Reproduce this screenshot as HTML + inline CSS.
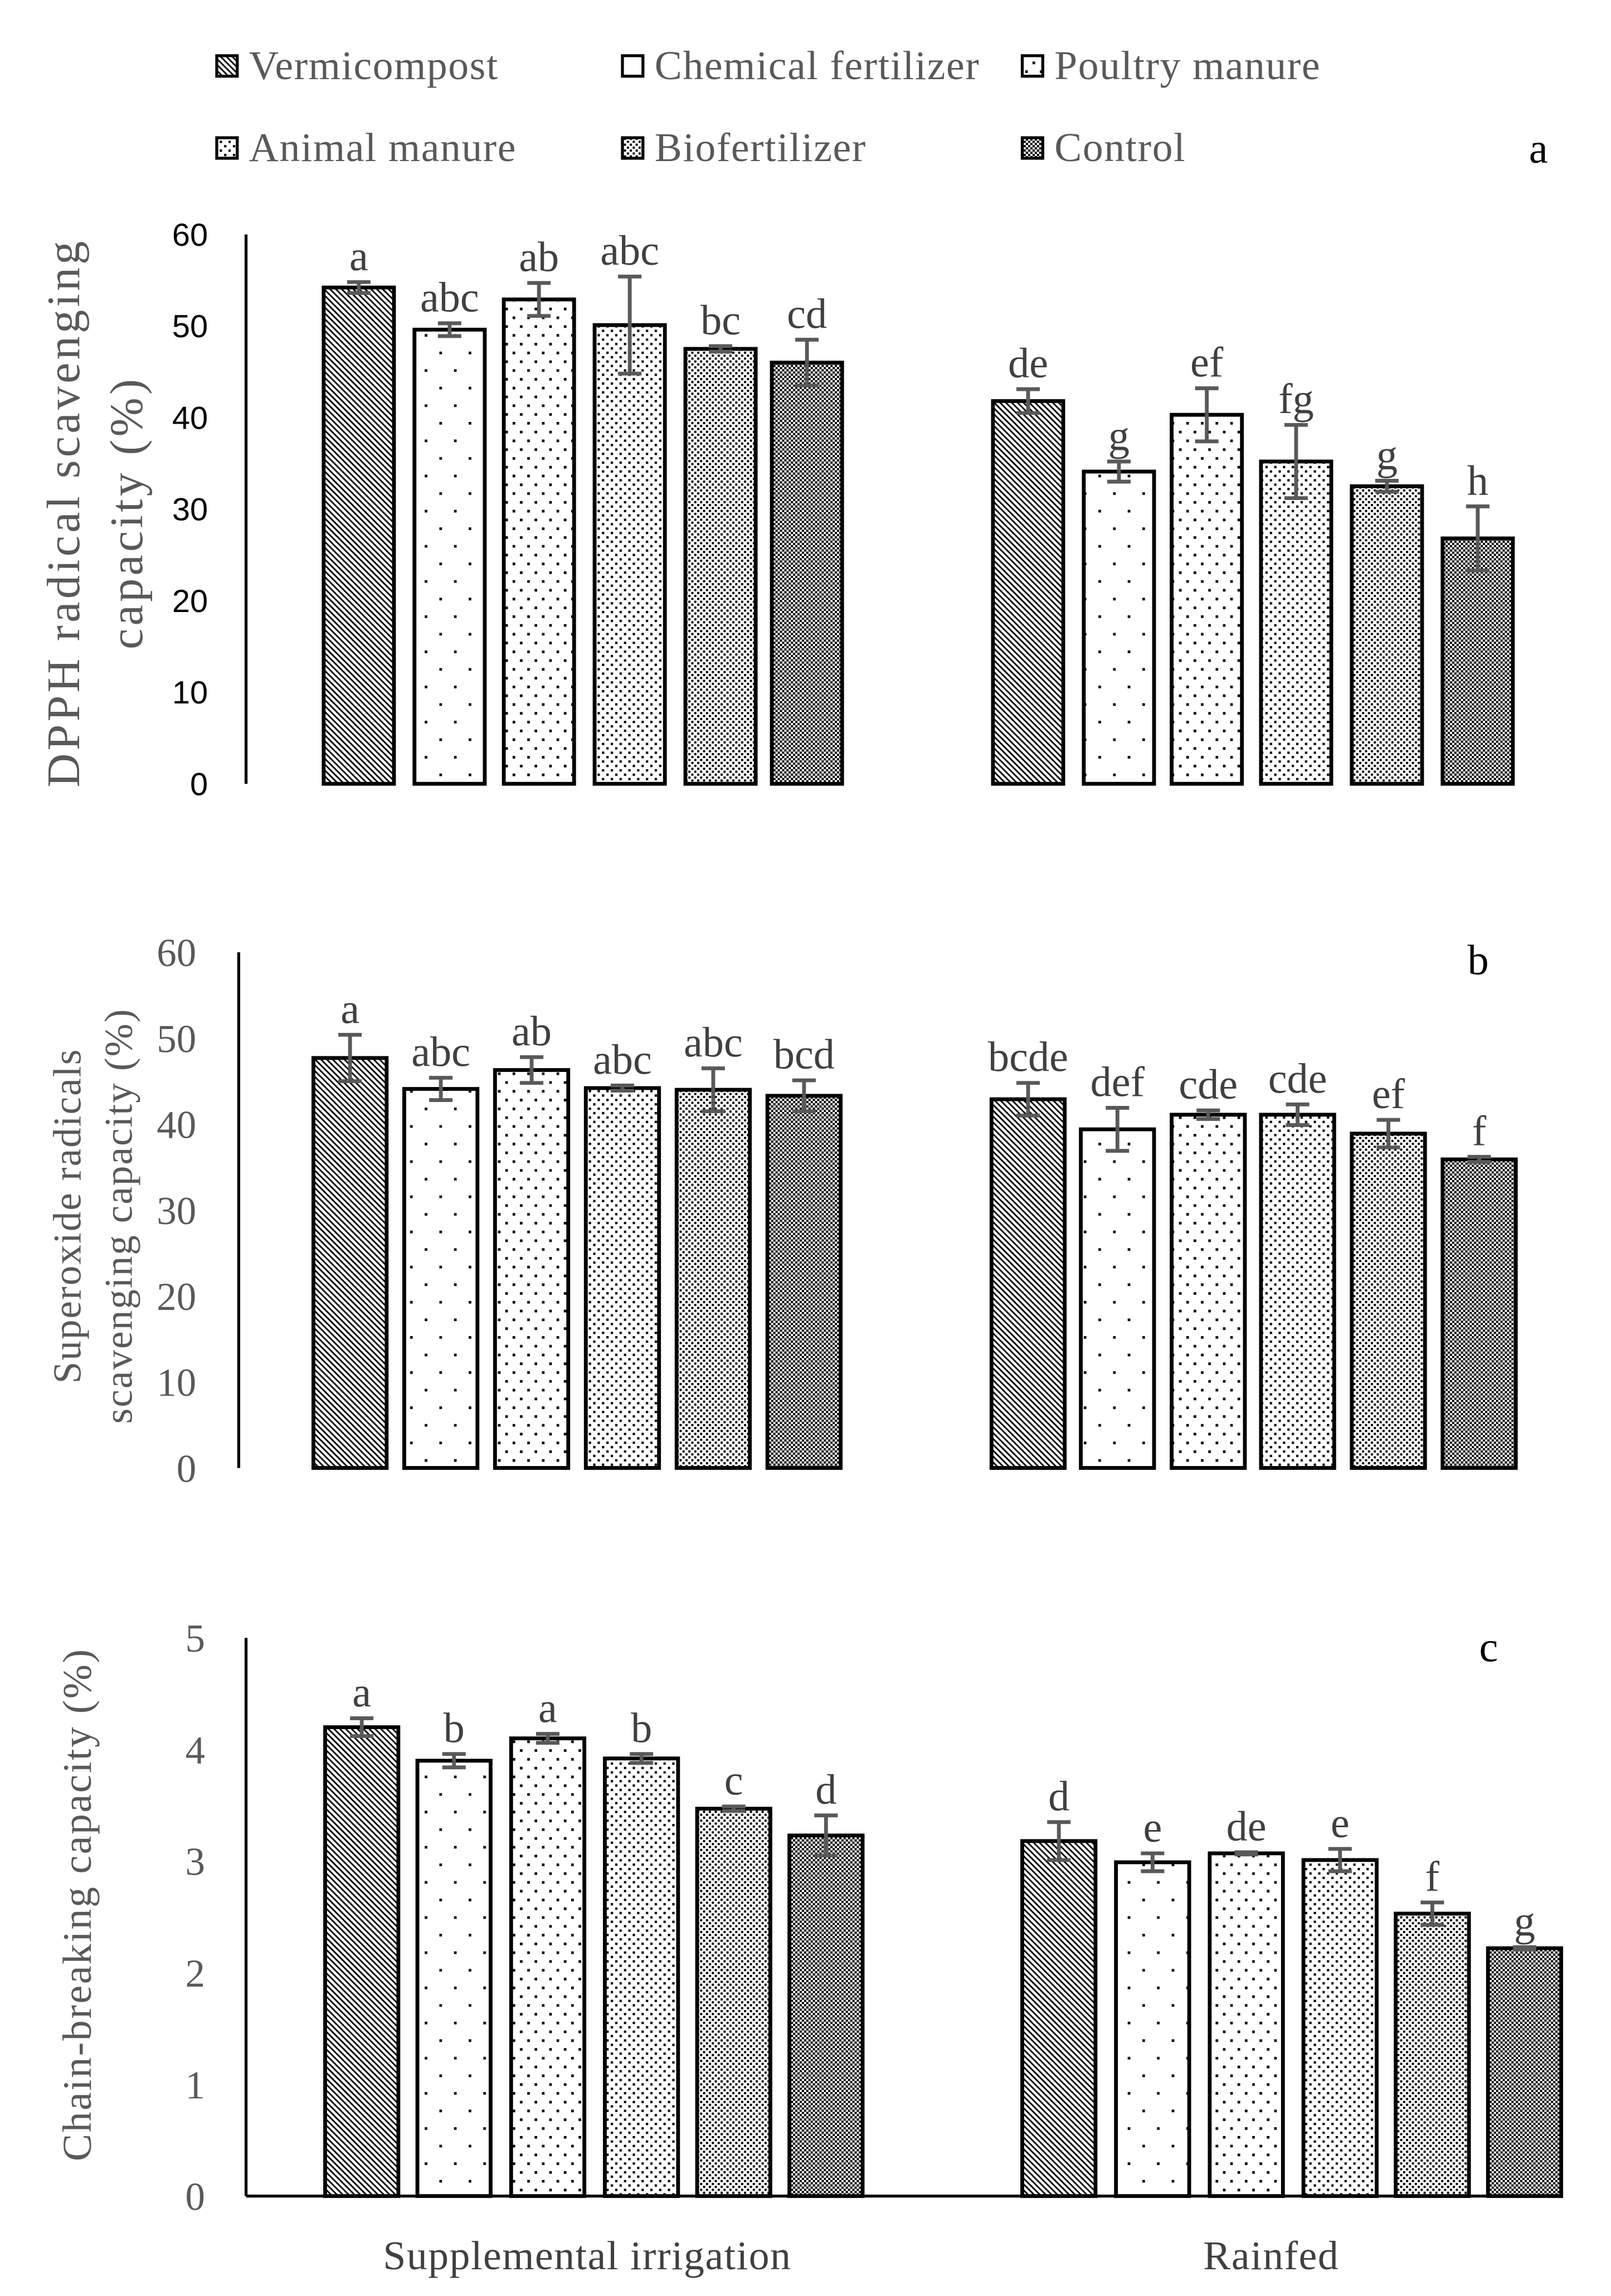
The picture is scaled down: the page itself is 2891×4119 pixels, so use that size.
<!DOCTYPE html>
<html><head><meta charset="utf-8"><style>
html,body{margin:0;padding:0;background:#fff}
svg{display:block}
.ser{font-family:"Liberation Serif",serif}
.san{font-family:"Liberation Sans",sans-serif}
</style></head><body>
<svg id="fig" width="2891" height="4119" viewBox="0 0 1100 1567.2" xmlns="http://www.w3.org/2000/svg">
<defs>
<pattern id="p0" width="4" height="4" patternUnits="userSpaceOnUse"><rect width="4" height="4" fill="#fff"/><path d="M-1,-1 L5,5 M-1,3 L1,5 M3,-1 L5,1" stroke="#000" stroke-width="1.1"/></pattern>
<pattern id="p1" width="20" height="24" patternUnits="userSpaceOnUse"><rect width="20" height="24" fill="#fff"/><rect x="0" y="0" width="1.8" height="1.8" fill="#000"/><rect x="10" y="12" width="1.8" height="1.8" fill="#000"/></pattern>
<pattern id="p2" width="10" height="12" patternUnits="userSpaceOnUse"><rect width="10" height="12" fill="#fff"/><rect x="0" y="0" width="1.8" height="1.8" fill="#000"/><rect x="5" y="6" width="1.8" height="1.8" fill="#000"/></pattern>
<pattern id="p3" width="6" height="6" patternUnits="userSpaceOnUse"><rect width="6" height="6" fill="#fff"/><rect x="0" y="0" width="1.6" height="1.6" fill="#000"/><rect x="3" y="3" width="1.6" height="1.6" fill="#000"/></pattern>
<pattern id="p4" width="4" height="4" patternUnits="userSpaceOnUse"><rect width="4" height="4" fill="#fff"/><rect x="0" y="0" width="1.5" height="1.5" fill="#000"/><rect x="2" y="2" width="1.5" height="1.5" fill="#000"/></pattern>
<pattern id="p5" width="3" height="3" patternUnits="userSpaceOnUse"><rect width="3" height="3" fill="#fff"/><rect x="0" y="0" width="1.5" height="1.5" fill="#000"/><rect x="1.5" y="1.5" width="1.5" height="1.5" fill="#000"/></pattern>
</defs>
</svg>
<script>
const treatments=["Vermicompost","Chemical fertilizer","Poultry manure","Animal manure","Biofertilizer","Control"];
const groups=["Supplemental irrigation","Rainfed"];
// panel a
const aSI=[54.2,49.6,52.9,50.1,47.5,46.0];
const aR=[41.8,34.1,40.3,35.2,32.5,26.8];
const aErrSI=[0.6,0.7,1.8,5.3,0.3,2.5];
const aErrR=[1.3,1.1,2.9,4.0,0.6,3.5];
const aLetSI=["a","abc","ab","abc","bc","cd"];
const aLetR=["de","g","ef","fg","g","h"];
const aTicks=[0,10,20,30,40,50,60];
// panel b
const bSI=[47.7,44.1,46.3,44.2,44.0,43.3];
const bR=[42.9,39.4,41.1,41.1,38.9,35.9];
const bErrSI=[2.7,1.3,1.5,0.3,2.5,1.8];
const bErrR=[1.9,2.5,0.5,1.2,1.6,0.3];
const bLetSI=["a","abc","ab","abc","abc","bcd"];
const bLetR=["bcde","def","cde","cde","ef","f"];
const bTicks=[0,10,20,30,40,50,60];
// panel c
const cSI=[4.2,3.9,4.1,3.92,3.47,3.23];
const cR=[3.18,2.99,3.07,3.01,2.53,2.22];
const cErrSI=[0.08,0.06,0.04,0.04,0.02,0.18];
const cErrR=[0.17,0.08,0.01,0.1,0.1,0.01];
const cLetSI=["a","b","a","b","c","d"];
const cLetR=["d","e","de","e","f","g"];
const cTicks=[0,1,2,3,4,5];

const svg=document.getElementById('fig');
const NS="http://www.w3.org/2000/svg";
function mk(tag,attrs,parent,text){const e=document.createElementNS(NS,tag);for(const k in attrs)e.setAttribute(k,attrs[k]);if(text!==undefined)e.textContent=text;(parent||svg).appendChild(e);return e;}

// legend
const legX=[148,425,698];const legY=[45,101];
treatments.forEach((t,i)=>{
  const x=legX[i%3],y=legY[Math.floor(i/3)];
  const g=mk('g',{});
  
  
  mk('rect',{x:x,y:y-7,width:14,height:14,fill:'url(#p'+i+')',stroke:'#000','stroke-width':2},g);
  mk('text',{x:x+22,y:y+9,'font-size':28,'letter-spacing':0.6,fill:'#595959',class:'ser'},g,t);
});

function panel(o){
  const g=mk('g',{});
  
  
  const yS=v=>o.y0-(v/o.max)*(o.y0-o.yTop);
  const ax=mk('line',{x1:o.axX,y1:o.yTop,x2:o.axX,y2:o.y0,stroke:'#000','stroke-width':2},g);
  
  
  if(o.xAxis){const xl=mk('line',{x1:o.axX,y1:o.y0,x2:1055,y2:o.y0,stroke:'#000','stroke-width':2},g);
    
    }
  o.ticks.forEach(t=>{
    const tx=mk('text',{x:o.tickX,y:yS(t)+o.tickFs*0.35,'font-size':o.tickFs,'text-anchor':'end',fill:o.tickCol,class:o.tickCls},g,String(t));
    
    
  });
  const sets=[[o.si,o.eSI,o.lSI,o.xSI],[o.r,o.eR,o.lR,o.xR]];
  sets.forEach((s,gi)=>{
    s[0].forEach((v,i)=>{
      const x=s[3][i],w=o.bw,top=yS(v);
      const b=mk('rect',{x:x,y:top,width:w,height:o.y0-top,fill:'url(#p'+i+')',stroke:'#000','stroke-width':2.6},g);
      
      
      const cx=x+w/2,e1=yS(v+s[1][i]),e2=yS(v-s[1][i]);
      const eb=mk('path',{d:`M${cx},${e1}V${e2}M${cx-8},${e1}H${cx+8}M${cx-8},${e2}H${cx+8}`,stroke:'#595959','stroke-width':2.6,fill:'none'},g);
      
      
      const lt=mk('text',{x:cx,y:Math.min(top,e1)-8,'font-size':29,'text-anchor':'middle',fill:'#404040',class:'ser'},g,s[2][i]);
      
      
    });
  });
  const pl=mk('text',{x:o.lab[0],y:o.lab[1],'font-size':29,fill:'#000',class:'ser'},g,o.id);
  
  
  o.title.forEach((line,k)=>{
    const tt=mk('text',{x:0,y:0,'font-size':o.titleFs,'letter-spacing':o.titleLs,'text-anchor':'middle',fill:'#595959',class:'ser',transform:`translate(${o.titleX[k]},${o.titleY}) rotate(-90)`},g,line);
    
    
  });
}
panel({id:'a',axX:168,yTop:160,y0:535,max:60,ticks:aTicks,tickX:142,tickFs:22,tickCol:'#000',tickCls:'san',
  si:aSI,r:aR,eSI:aErrSI,eR:aErrR,lSI:aLetSI,lR:aLetR,bw:48,
  xSI:[221,283,344,406,468,527],xR:[678,740,800,861,923,985],lab:[1044,111],
  title:["DPPH radical scavenging","capacity  (%)"],titleX:[54,97],titleY:350,titleFs:32,titleLs:2});
panel({id:'b',axX:163,yTop:650,y0:1002,max:60,ticks:bTicks,tickX:134,tickFs:27,tickCol:'#595959',tickCls:'ser',
  si:bSI,r:bR,eSI:bErrSI,eR:bErrR,lSI:bLetSI,lR:bLetR,bw:50,
  xSI:[214,276,338,400,462,524],xR:[677,738,800,861,923,985],lab:[1002,665],
  title:["Superoxide radicals","scavenging capacity (%)"],titleX:[55,90],titleY:830,titleFs:27,titleLs:0.8});
panel({id:'c',axX:168,yTop:1118,y0:1499,max:5,ticks:cTicks,tickX:140,tickFs:27,tickCol:'#595959',tickCls:'ser',xAxis:true,
  si:cSI,r:cR,eSI:cErrSI,eR:cErrR,lSI:cLetSI,lR:cLetR,bw:50,
  xSI:[222,285,349,413,476,539],xR:[698,762,826,890,953,1016],lab:[1010,1134],
  title:["Chain-breaking capacity (%)"],titleX:[62],titleY:1300,titleFs:28,titleLs:1});
[[401,groups[0]],[868,groups[1]]].forEach(([x,t])=>{
  const c=mk('text',{x:x,y:1549,'font-size':28,'letter-spacing':0.6,'text-anchor':'middle',fill:'#404040',class:'ser'},svg,t);
  
  
});
</script>
</body></html>
